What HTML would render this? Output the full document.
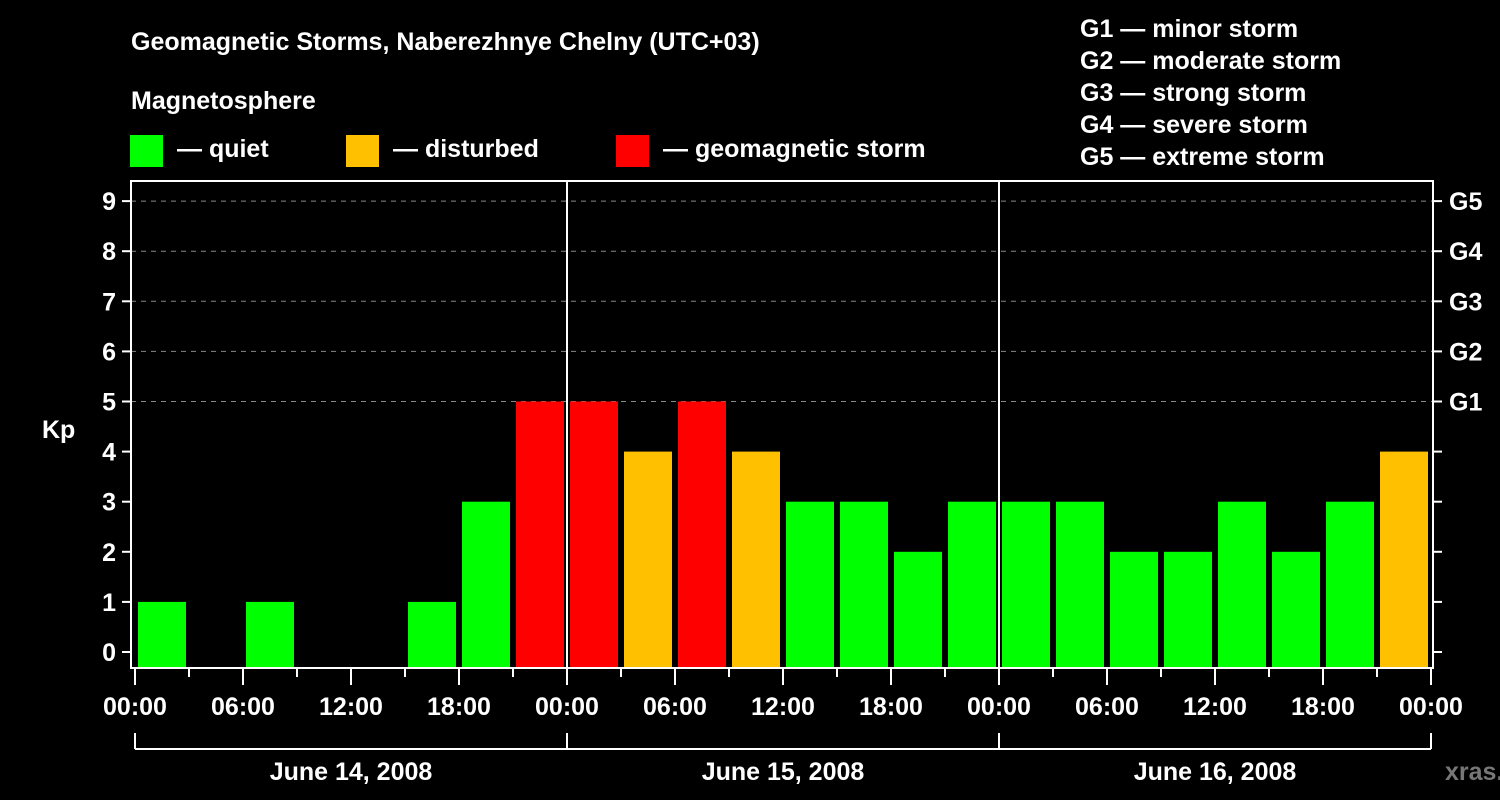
<!DOCTYPE html>
<html><head><meta charset="utf-8"><style>
html,body{margin:0;padding:0;background:#000;}
svg{display:block;font-family:"Liberation Sans",sans-serif;font-weight:bold;}
</style></head><body>
<svg id="chart" width="1500" height="800" viewBox="0 0 1500 800">
<rect x="0" y="0" width="1500" height="800" fill="#000"/>
<text x="131" y="50" font-size="25" fill="#fff">Geomagnetic Storms, Naberezhnye Chelny (UTC+03)</text>
<text x="131" y="109" font-size="25" fill="#fff">Magnetosphere</text>
<g><rect x="130" y="135" width="33" height="32" fill="#00ff00"/><text x="177" y="157" font-size="25" fill="#fff">— quiet</text></g>
<g><rect x="346" y="135" width="33" height="32" fill="#ffc000"/><text x="393" y="157" font-size="25" fill="#fff">— disturbed</text></g>
<g><rect x="616" y="135" width="33" height="32" fill="#ff0000"/><text x="663" y="157" font-size="25" fill="#fff">— geomagnetic storm</text></g>
<g font-size="25" fill="#fff">
<text x="1080" y="37">G1 — minor storm</text>
<text x="1080" y="69">G2 — moderate storm</text>
<text x="1080" y="101">G3 — strong storm</text>
<text x="1080" y="133">G4 — severe storm</text>
<text x="1080" y="165">G5 — extreme storm</text>
</g>
<text x="42" y="438" font-size="25" fill="#fff">Kp</text>
<g id="grid"></g><g id="bars"></g><g id="axes"></g>
<text x="1445" y="780" font-size="25" fill="#777">xras.ru</text>
</svg>
<script>
const kpValues = [1,0,1,0,0,1,3,5, 5,4,5,4,3,3,2,3, 3,3,2,2,3,2,3,4];
const dayLabels = ["June 14, 2008","June 15, 2008","June 16, 2008"];
const hourLabels = ["00:00","06:00","12:00","18:00"];
const gLabels = ["G1","G2","G3","G4","G5"];
const NS="http://www.w3.org/2000/svg";
const L=131,R=1433,T=181,B=668,X0=135,DAY=432;
const y=v=>652-v*50.1;
const x=h=>X0+h*DAY/24;
function mk(p,tag,a){const e=document.createElementNS(NS,tag);for(const k in a)e.setAttribute(k,a[k]);p.appendChild(e);return e;}
const grid=document.getElementById('grid'),bars=document.getElementById('bars'),axes=document.getElementById('axes');
for(let v=5;v<=9;v++){const l=mk(grid,'line',{x1:L,x2:R,y1:y(v),y2:y(v),stroke:'#888','stroke-dasharray':'5,5','stroke-width':1});

}
kpValues.forEach((v,i)=>{if(v<=0)return;
const c=v>=5?'#ff0000':v>=4?'#ffc000':'#00ff00';
const r=mk(bars,'rect',{x:x(i*3)+3,y:y(v),width:48,height:B-y(v),fill:c});

});
const fr=mk(axes,'rect',{x:L,y:T,width:R-L,height:B-T,fill:'none',stroke:'#fff','stroke-width':2});


for(let d=1;d<dayLabels.length;d++){const l=mk(axes,'line',{x1:X0+d*DAY,x2:X0+d*DAY,y1:T,y2:B,stroke:'#fff','stroke-width':2});

}
for(let v=0;v<=9;v++){mk(axes,'line',{x1:122,x2:L,y1:y(v),y2:y(v),stroke:'#fff','stroke-width':2});
mk(axes,'line',{x1:R,x2:1442,y1:y(v),y2:y(v),stroke:'#fff','stroke-width':2});
const t=mk(axes,'text',{x:116,y:y(v)+9,'font-size':25,fill:'#fff','text-anchor':'end'});t.textContent=v;

}
gLabels.forEach((g,i)=>{const t=mk(axes,'text',{x:1449,y:y(5+i)+9,'font-size':25,fill:'#fff'});t.textContent=g;

});
for(let h=0;h<=24*dayLabels.length;h+=3){const long=h%6===0;
mk(axes,'line',{x1:x(h),x2:x(h),y1:B,y2:long?685:677,stroke:'#fff','stroke-width':2});
if(long){const t=mk(axes,'text',{x:x(h),y:715,'font-size':25,fill:'#fff','text-anchor':'middle'});t.textContent=hourLabels[(h/6)%4];

}}
mk(axes,'line',{x1:X0,x2:X0+DAY*dayLabels.length,y1:749,y2:749,stroke:'#fff','stroke-width':2});
for(let d=0;d<=dayLabels.length;d++)mk(axes,'line',{x1:X0+d*DAY,x2:X0+d*DAY,y1:733,y2:749,stroke:'#fff','stroke-width':2});
dayLabels.forEach((s,d)=>{const t=mk(axes,'text',{x:X0+d*DAY+DAY/2,y:780,'font-size':25,fill:'#fff','text-anchor':'middle'});t.textContent=s;

});
</script>
</body></html>
